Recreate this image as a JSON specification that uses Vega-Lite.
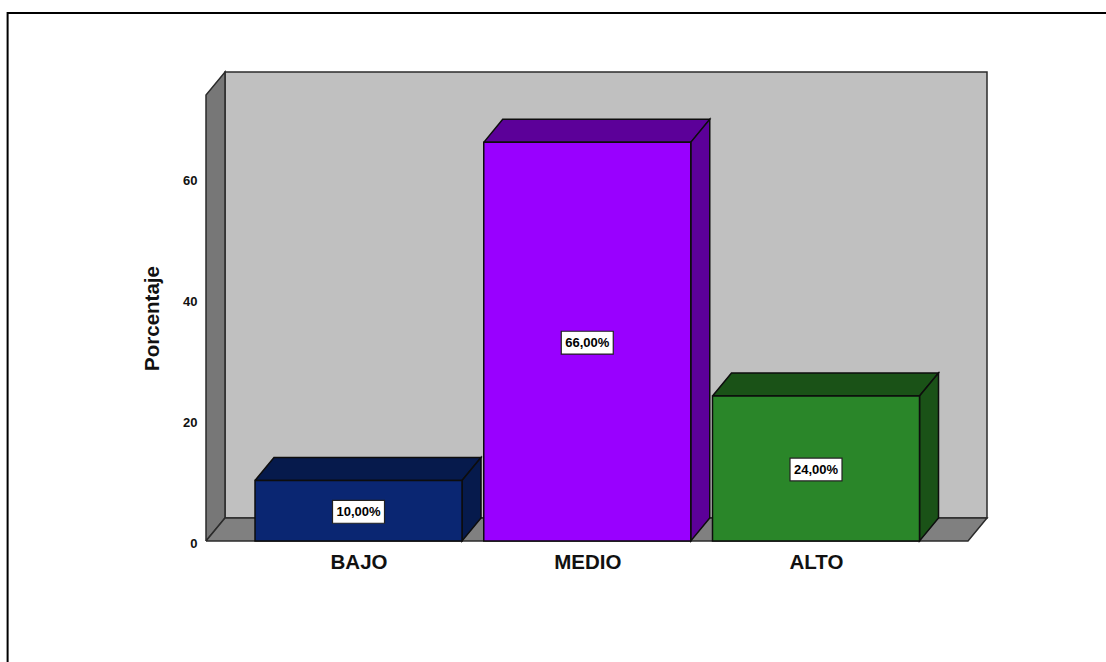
{
"$schema":"https://vega.github.io/schema/vega-lite/v6.json",
"autosize":{"type":"none"},
"padding":{"left":206,"top":72,"right":119,"bottom":121},
"width":781,"height":469,
"background":"white",
"config":{"view":{"stroke":null}},
"datasets":{
"barras":[
{"categoria":"BAJO","posicion":1,"porcentaje":10,"etiqueta":"10,00%","parte":"BAJO frente"},
{"categoria":"MEDIO","posicion":2,"porcentaje":66,"etiqueta":"66,00%","parte":"MEDIO frente"},
{"categoria":"ALTO","posicion":3,"porcentaje":24,"etiqueta":"24,00%","parte":"ALTO frente"}
],
"fondo":[
{"cara":"pared","parte":"pared","v":0,"x":0.4163,"y":3.81},{"cara":"pared","parte":"pared","v":1,"x":3.7475,"y":3.81},{"cara":"pared","parte":"pared","v":2,"x":3.7475,"y":77.65},{"cara":"pared","parte":"pared","v":3,"x":0.4163,"y":77.65},{"cara":"pared","parte":"pared","v":4,"x":0.4163,"y":3.81},
{"cara":"lado","parte":"lado","v":0,"x":0.3333,"y":0},{"cara":"lado","parte":"lado","v":1,"x":0.4163,"y":3.81},{"cara":"lado","parte":"lado","v":2,"x":0.4163,"y":77.65},{"cara":"lado","parte":"lado","v":3,"x":0.3333,"y":73.84},{"cara":"lado","parte":"lado","v":4,"x":0.3333,"y":0},
{"cara":"suelo","parte":"suelo","v":0,"x":0.3333,"y":0},{"cara":"suelo","parte":"suelo","v":1,"x":3.6645,"y":0},{"cara":"suelo","parte":"suelo","v":2,"x":3.7475,"y":3.81},{"cara":"suelo","parte":"suelo","v":3,"x":0.4163,"y":3.81},{"cara":"suelo","parte":"suelo","v":4,"x":0.3333,"y":0}
],
"caras":[
{"cara":"BAJO sup","parte":"BAJO sombra","v":0,"x":0.5475,"y":10},{"cara":"BAJO sup","parte":"BAJO sombra","v":1,"x":1.4525,"y":10},{"cara":"BAJO sup","parte":"BAJO sombra","v":2,"x":1.5355,"y":13.81},{"cara":"BAJO sup","parte":"BAJO sombra","v":3,"x":0.6305,"y":13.81},{"cara":"BAJO sup","parte":"BAJO sombra","v":4,"x":0.5475,"y":10},
{"cara":"BAJO lat","parte":"BAJO sombra","v":0,"x":1.4525,"y":10},{"cara":"BAJO lat","parte":"BAJO sombra","v":1,"x":1.5355,"y":13.81},{"cara":"BAJO lat","parte":"BAJO sombra","v":2,"x":1.5355,"y":3.81},{"cara":"BAJO lat","parte":"BAJO sombra","v":3,"x":1.4525,"y":0},{"cara":"BAJO lat","parte":"BAJO sombra","v":4,"x":1.4525,"y":10},
{"cara":"MEDIO sup","parte":"MEDIO sombra","v":0,"x":1.5475,"y":66},{"cara":"MEDIO sup","parte":"MEDIO sombra","v":1,"x":2.4525,"y":66},{"cara":"MEDIO sup","parte":"MEDIO sombra","v":2,"x":2.5355,"y":69.81},{"cara":"MEDIO sup","parte":"MEDIO sombra","v":3,"x":1.6305,"y":69.81},{"cara":"MEDIO sup","parte":"MEDIO sombra","v":4,"x":1.5475,"y":66},
{"cara":"MEDIO lat","parte":"MEDIO sombra","v":0,"x":2.4525,"y":66},{"cara":"MEDIO lat","parte":"MEDIO sombra","v":1,"x":2.5355,"y":69.81},{"cara":"MEDIO lat","parte":"MEDIO sombra","v":2,"x":2.5355,"y":3.81},{"cara":"MEDIO lat","parte":"MEDIO sombra","v":3,"x":2.4525,"y":0},{"cara":"MEDIO lat","parte":"MEDIO sombra","v":4,"x":2.4525,"y":66},
{"cara":"ALTO sup","parte":"ALTO sombra","v":0,"x":2.5475,"y":24},{"cara":"ALTO sup","parte":"ALTO sombra","v":1,"x":3.4525,"y":24},{"cara":"ALTO sup","parte":"ALTO sombra","v":2,"x":3.5355,"y":27.81},{"cara":"ALTO sup","parte":"ALTO sombra","v":3,"x":2.6305,"y":27.81},{"cara":"ALTO sup","parte":"ALTO sombra","v":4,"x":2.5475,"y":24},
{"cara":"ALTO lat","parte":"ALTO sombra","v":0,"x":3.4525,"y":24},{"cara":"ALTO lat","parte":"ALTO sombra","v":1,"x":3.5355,"y":27.81},{"cara":"ALTO lat","parte":"ALTO sombra","v":2,"x":3.5355,"y":3.81},{"cara":"ALTO lat","parte":"ALTO sombra","v":3,"x":3.4525,"y":0},{"cara":"ALTO lat","parte":"ALTO sombra","v":4,"x":3.4525,"y":24}
],
"marco":[
{"v":0,"x":4.27,"y":87.42},{"v":1,"x":-0.534,"y":87.42},{"v":2,"x":-0.534,"y":-20.5}
]
},
"layer":[
{"data":{"name":"marco"},
 "mark":{"type":"line","stroke":"#000000","strokeWidth":2,"clip":false},
 "encoding":{"x":{"field":"x","type":"quantitative"},"y":{"field":"y","type":"quantitative"},"order":{"field":"v","type":"quantitative"}}},
{"data":{"name":"fondo"},
 "mark":{"type":"line","stroke":"#2b2b2b","strokeWidth":1.5,"strokeJoin":"miter"},
 "encoding":{
  "x":{"field":"x","type":"quantitative","scale":{"domain":[0.3333,3.7475],"nice":false,"zero":false,"padding":0},
    "axis":{"title":null,"values":[1,2,3],"labelExpr":"datum.value==1?'BAJO':datum.value==2?'MEDIO':'ALTO'","ticks":false,"domain":false,"grid":false,"labelFont":"Liberation Sans","labelFontWeight":"bold","labelFontSize":20.5,"labelColor":"#111111","labelPadding":11}},
  "y":{"field":"y","type":"quantitative","scale":{"domain":[0,77.65],"nice":false,"zero":false},
    "axis":{"title":"Porcentaje","values":[0,20,40,60],"format":"d","ticks":false,"domain":false,"grid":false,"labelFont":"Liberation Sans","labelFontWeight":"bold","labelFontSize":13,"labelColor":"#111111","labelPadding":9,"labelOffset":2,"titleFont":"Liberation Sans","titleFontWeight":"bold","titleFontSize":20.5,"titleColor":"#111111","titleX":-54,"titleY":246,"titleAlign":"center","titleBaseline":"middle"}},
  "detail":{"field":"cara"},
  "order":{"field":"v","type":"quantitative"},
  "fill":{"field":"parte","type":"nominal","legend":null,"scale":{"domain":["pared","lado","suelo","BAJO frente","BAJO sombra","MEDIO frente","MEDIO sombra","ALTO frente","ALTO sombra"],"range":["#c0c0c0","#777777","#808080","#0a2672","#061a4c","#9900ff","#5c0099","#2a8629","#1a5217"]}}
 }},
{"data":{"name":"caras"},
 "mark":{"type":"line","stroke":"#0d0d0d","strokeWidth":1.5,"strokeJoin":"miter"},
 "encoding":{
  "x":{"field":"x","type":"quantitative"},
  "y":{"field":"y","type":"quantitative"},
  "detail":{"field":"cara"},
  "order":{"field":"v","type":"quantitative"},
  "fill":{"field":"parte","type":"nominal","legend":null}
 }},
{"data":{"name":"barras"},
 "mark":{"type":"bar","size":207,"stroke":"#0d0d0d","strokeWidth":1.5},
 "encoding":{
  "x":{"field":"posicion","type":"quantitative"},
  "y":{"field":"porcentaje","type":"quantitative"},
  "fill":{"field":"parte","type":"nominal","legend":null}
 }},
{"data":{"name":"barras"},
 "transform":[{"calculate":"datum.porcentaje/2","as":"centro"}],
 "mark":{"type":"point","filled":true,"shape":"M-1,-0.44H1V0.44H-1Z","size":2704,"fill":"#ffffff","stroke":"#222222","strokeWidth":1.2,"opacity":1,"yOffset":1},
 "encoding":{
  "x":{"field":"posicion","type":"quantitative"},
  "y":{"field":"centro","type":"quantitative"}
 }},
{"data":{"name":"barras"},
 "transform":[{"calculate":"datum.porcentaje/2","as":"centro"}],
 "mark":{"type":"text","font":"Liberation Sans","fontWeight":"bold","fontSize":13,"fill":"#000000","align":"center","baseline":"middle","yOffset":1},
 "encoding":{
  "x":{"field":"posicion","type":"quantitative"},
  "y":{"field":"centro","type":"quantitative"},
  "text":{"field":"etiqueta"}
 }}
]
}
